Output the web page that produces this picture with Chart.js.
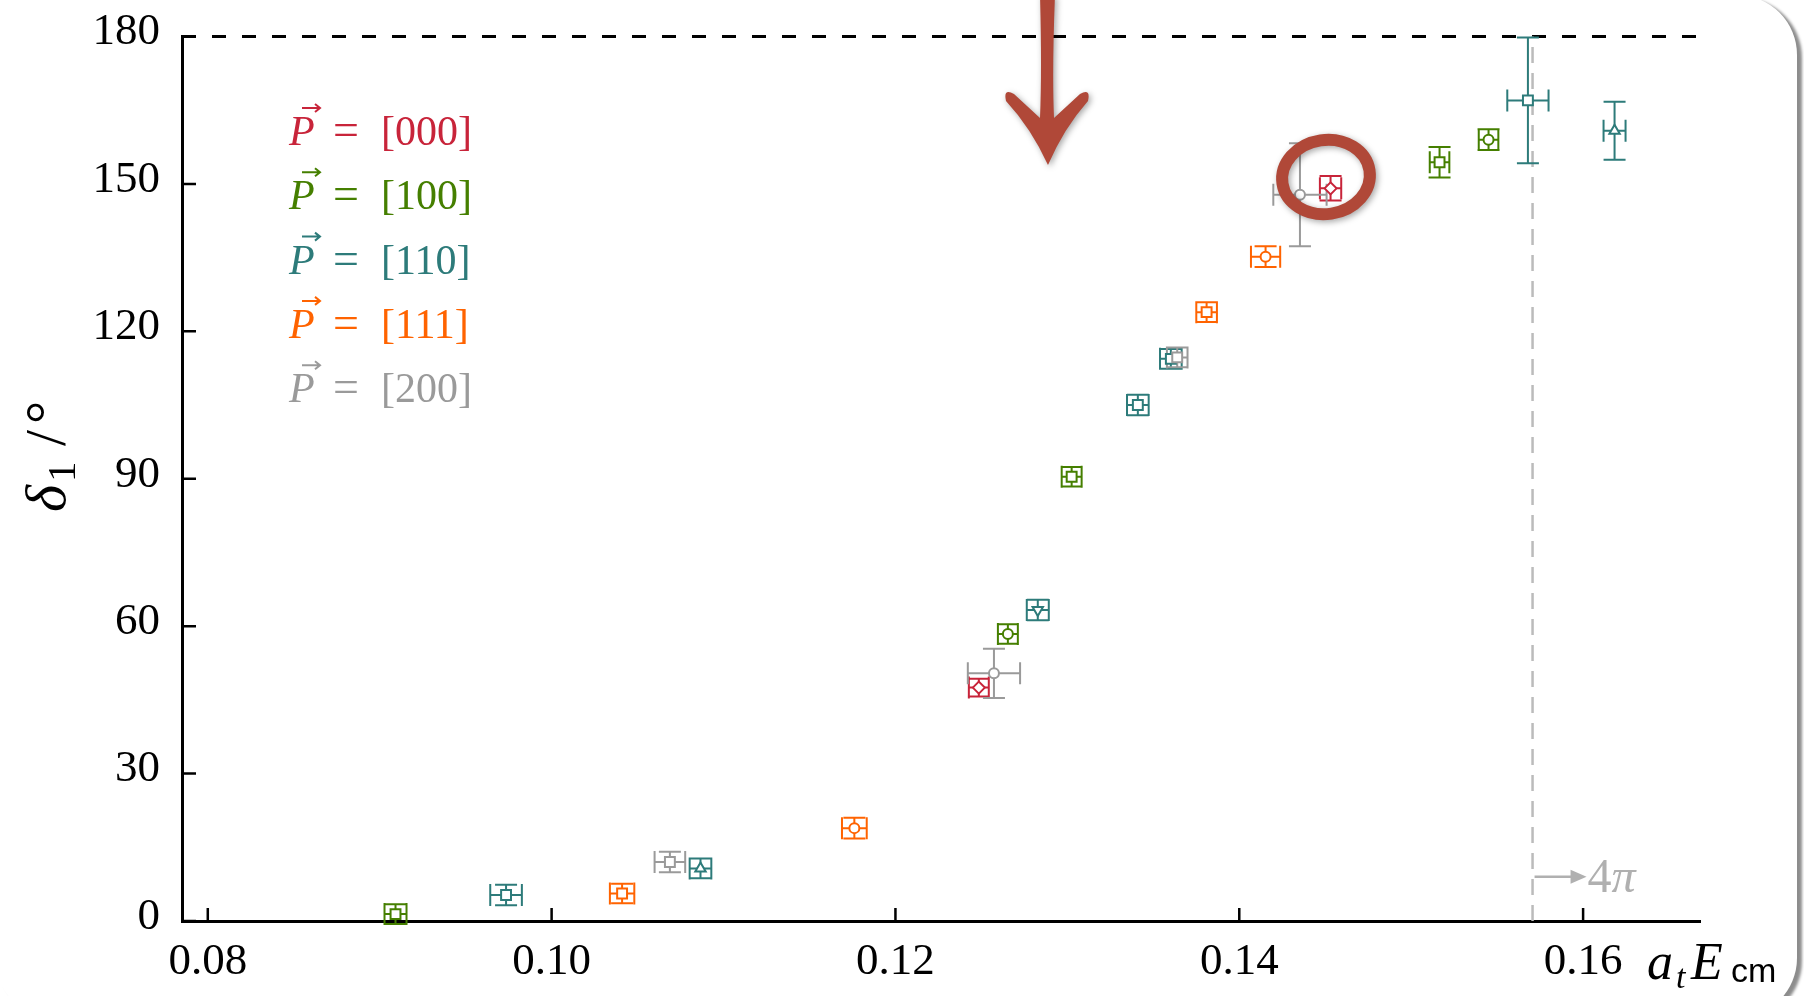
<!DOCTYPE html>
<html>
<head>
<meta charset="utf-8">
<title>Elastic phase shift δ1 versus a_t E_cm</title>
<script src="https://cdn.jsdelivr.net/npm/chart.js@4.4.1/dist/chart.umd.min.js"></script>
<style>
  html, body { margin: 0; padding: 0; background: #ffffff; overflow: hidden; }
  #card {
    position: absolute; left: -5px; top: -5px; width: 1802px; height: 1023px;
    border-radius: 60px; background: #ffffff;
    box-shadow: 5px 3px 3px rgba(0, 0, 0, 0.45);
  }
  #wrap { position: absolute; left: 0; top: 0; width: 1804px; height: 996px; }
</style>
</head>
<body>
<div id="card"></div>
<div id="wrap"><canvas id="c" width="1804" height="996"></canvas></div>
<script>
// ---- frame momenta and series colours ----
const momenta = ['[000]', '[100]', '[110]', '[111]', '[200]'];
const seriesColors = ['#c8243a', '#457f00', '#2d7b7a', '#ff6300', '#9a9a9a'];

// ---- P = [000] ----
const energy000    = [0.12485, 0.14531];
const phase000     = [47.5, 149.1];
const energyErr000 = [0.00058, 0.00062];
const phaseErr000  = [1.8, 2.5];
const marker000    = ['rectRot', 'rectRot'];

// ---- P = [100] ----
const energy100    = [0.09092, 0.12654, 0.13025, 0.15165, 0.15450];
const phase100     = [1.4, 58.4, 90.4, 154.4, 159.0];
const energyErr100 = [0.00064, 0.00058, 0.00058, 0.00057, 0.00057];
const phaseErr100  = [2.0, 2.0, 2.0, 3.1, 2.1];
const marker100    = ['rect', 'circle', 'rect', 'rect', 'circle'];

// ---- P = [110] ----
const energy110    = [0.09735, 0.10866, 0.12828, 0.13410, 0.13602, 0.15679, 0.16183];
const phase110     = [5.3, 10.7, 63.3, 105.0, 114.4, 167.0, 160.8];
const energyErr110 = [0.00092, 0.00063, 0.00064, 0.00063, 0.00063, 0.00120, 0.00064];
const phaseErr110  = [2.1, 2.0, 2.1, 2.1, 2.0, 12.8, 5.9];
const marker110    = ['rect', 'triangle', 'triangleDown', 'rect', 'rect', 'rect', 'triangle'];

// ---- P = [111] ----
const energy111    = [0.10410, 0.11761, 0.13810, 0.14153];
const phase111     = [5.6, 18.9, 123.9, 135.2];
const energyErr111 = [0.00071, 0.00072, 0.00060, 0.00085];
const phaseErr111  = [2.0, 2.1, 2.0, 2.1];
const marker111    = ['rect', 'circle', 'rect', 'circle'];

// ---- P = [200] ----
const energy200    = [0.10688, 0.12573, 0.13639, 0.14353];
const phase200     = [12.0, 50.4, 114.7, 147.8];
const energyErr200 = [0.00089, 0.00152, 0.00060, 0.00155];
const phaseErr200  = [2.1, 5.0, 2.0, 10.5];
const marker200    = ['rect', 'circle', 'rect', 'circle'];

// ---- axes ----
const xTickValues = [0.08, 0.10, 0.12, 0.14, 0.16];
const yTickValues = [0, 30, 60, 90, 120, 150, 180];
const xRange = [0.0785, 0.1668];
const yRange = [0, 180];
const phaseLimit = 180;            // horizontal dashed line
const fourPionThreshold = 0.15706; // vertical dashed line, "→4π"

const series = [
  [energy000, phase000, energyErr000, phaseErr000, marker000],
  [energy100, phase100, energyErr100, phaseErr100, marker100],
  [energy110, phase110, energyErr110, phaseErr110, marker110],
  [energy111, phase111, energyErr111, phaseErr111, marker111],
  [energy200, phase200, energyErr200, phaseErr200, marker200]
];

// marker shape -> Chart.js point style, size, rotation
const markerLook = {
  circle:       { style: 'circle',   radius: 5, rotation: 0 },
  rect:         { style: 'rect',     radius: 7, rotation: 0 },
  rectRot:      { style: 'rectRot',  radius: 6, rotation: 0 },
  triangle:     { style: 'triangle', radius: 6, rotation: 0 },
  triangleDown: { style: 'triangle', radius: 6, rotation: 180 }
};

const datasets = series.map(([xs, ys, xe, ye, mk], i) => ({
  label: momenta[i],
  data: xs.map((v, j) => ({ x: v, y: ys[j] })),
  xErr: xe,
  yErr: ye,
  borderColor: seriesColors[i],
  backgroundColor: '#ffffff',
  borderWidth: 2,
  pointStyle: mk.map(m => markerLook[m].style),
  pointRadius: mk.map(m => markerLook[m].radius),
  pointRotation: mk.map(m => markerLook[m].rotation),
  order: series.length - i
}));

// dashed reference lines under the data
const referenceLines = {
  id: 'referenceLines',
  beforeDatasetsDraw(chart) {
    const { ctx, chartArea: a, scales: { x, y } } = chart;
    ctx.save();
    // delta = 180 degrees
    ctx.strokeStyle = '#000000';
    ctx.lineWidth = 3;
    ctx.setLineDash([14, 16]);
    const py = y.getPixelForValue(phaseLimit);
    ctx.beginPath();
    ctx.moveTo(a.left, py);
    ctx.lineTo(a.right, py);
    ctx.stroke();
    // four-pion threshold
    ctx.strokeStyle = '#bbbbbb';
    ctx.lineWidth = 2.5;
    ctx.setLineDash([16, 10]);
    const px = x.getPixelForValue(fourPionThreshold);
    ctx.beginPath();
    ctx.moveTo(px, y.getPixelForValue(yRange[0]));
    ctx.lineTo(px, y.getPixelForValue(yRange[1]));
    ctx.stroke();
    ctx.restore();
  }
};

// horizontal and vertical error bars with caps
const errorBars = {
  id: 'errorBars',
  beforeDatasetsDraw(chart) {
    const { ctx, scales: { x, y } } = chart;
    const cap = 11;
    ctx.save();
    ctx.lineWidth = 2;
    chart.data.datasets.forEach((ds, i) => {
      if (!chart.isDatasetVisible(i)) return;
      ctx.strokeStyle = ds.borderColor;
      ds.data.forEach((p, j) => {
        const px = x.getPixelForValue(p.x);
        const py = y.getPixelForValue(p.y);
        const x0 = x.getPixelForValue(p.x - ds.xErr[j]);
        const x1 = x.getPixelForValue(p.x + ds.xErr[j]);
        const y0 = y.getPixelForValue(p.y - ds.yErr[j]);
        const y1 = y.getPixelForValue(p.y + ds.yErr[j]);
        ctx.beginPath();
        ctx.moveTo(x0, py); ctx.lineTo(x1, py);
        ctx.moveTo(px, y0); ctx.lineTo(px, y1);
        ctx.moveTo(x0, py - cap); ctx.lineTo(x0, py + cap);
        ctx.moveTo(x1, py - cap); ctx.lineTo(x1, py + cap);
        ctx.moveTo(px - cap, y0); ctx.lineTo(px + cap, y0);
        ctx.moveTo(px - cap, y1); ctx.lineTo(px + cap, y1);
        ctx.stroke();
      });
    });
    ctx.restore();
  }
};

// tick marks pointing into the plot
const innerTicks = {
  id: 'innerTicks',
  afterDatasetsDraw(chart) {
    const { ctx, chartArea: a, scales: { x, y } } = chart;
    ctx.save();
    ctx.strokeStyle = '#000000';
    ctx.lineWidth = 2.5;
    ctx.beginPath();
    x.ticks.forEach(t => {
      const px = x.getPixelForValue(t.value);
      ctx.moveTo(px, a.bottom);
      ctx.lineTo(px, a.bottom - 13);
    });
    y.ticks.forEach(t => {
      const py = y.getPixelForValue(t.value);
      ctx.moveTo(a.left, py);
      ctx.lineTo(a.left + 14, py);
    });
    ctx.stroke();
    ctx.restore();
  }
};

// legend, axis titles and the threshold label
const textLayer = {
  id: 'textLayer',
  afterDraw(chart) {
    const { ctx, scales: { x, y } } = chart;
    ctx.save();
    ctx.textAlign = 'left';
    ctx.textBaseline = 'alphabetic';

    // legend: P-vector = [n n n]
    const legendX = 289, legendBase = 145, legendStep = 64.3;
    momenta.forEach((m, i) => {
      const base = legendBase + i * legendStep;
      ctx.fillStyle = seriesColors[i];
      ctx.strokeStyle = seriesColors[i];
      ctx.font = 'italic 42px "Liberation Serif"';
      ctx.fillText('P', legendX, base);
      // vector arrow above P
      ctx.lineWidth = 2;
      ctx.beginPath();
      ctx.moveTo(legendX + 13, base - 37);
      ctx.lineTo(legendX + 31, base - 37);
      ctx.moveTo(legendX + 26, base - 41);
      ctx.lineTo(legendX + 31, base - 37);
      ctx.lineTo(legendX + 26, base - 33);
      ctx.stroke();
      ctx.font = '46px "Liberation Serif"';
      ctx.fillText('=', legendX + 44, base);
      ctx.font = '42px "Liberation Serif"';
      ctx.fillText(m, legendX + 92, base);
    });

    // y title: δ1 /°
    ctx.fillStyle = '#000000';
    ctx.save();
    ctx.translate(65, 512);
    ctx.rotate(-Math.PI / 2);
    ctx.font = 'italic 58px "Liberation Serif"';
    ctx.fillText('δ', 0, 0);
    ctx.font = '41px "Liberation Serif"';
    ctx.fillText('1', 30, 10);
    ctx.font = '58px "Liberation Serif"';
    ctx.fillText('/', 66, 0);
    ctx.fillText('°', 88, 0);
    ctx.restore();

    // x title: a_t E_cm
    ctx.font = 'italic 52px "Liberation Serif"';
    ctx.fillText('a', 1647, 979);
    ctx.font = 'italic 34px "Liberation Serif"';
    ctx.fillText('t', 1676, 988);
    ctx.font = 'italic 52px "Liberation Serif"';
    ctx.fillText('E', 1691, 979);
    ctx.font = '34px "Liberation Sans"';
    ctx.fillText('cm', 1731, 982);

    // →4π next to the threshold line
    const tx = x.getPixelForValue(fourPionThreshold);
    const ty = y.getPixelForValue(9);
    ctx.strokeStyle = '#b0b0b0';
    ctx.fillStyle = '#b0b0b0';
    ctx.lineWidth = 2.5;
    ctx.beginPath();
    ctx.moveTo(tx + 2, ty);
    ctx.lineTo(tx + 42, ty);
    ctx.stroke();
    ctx.beginPath();
    ctx.moveTo(tx + 54, ty);
    ctx.lineTo(tx + 38, ty - 7);
    ctx.lineTo(tx + 38, ty + 7);
    ctx.closePath();
    ctx.fill();
    ctx.font = '48px "Liberation Serif"';
    ctx.fillText('4', tx + 55, ty + 15);
    ctx.font = 'italic 48px "Liberation Serif"';
    ctx.fillText('π', tx + 79, ty + 15);

    ctx.restore();
  }
};

// hand-drawn highlight: arrow and circle
const highlight = {
  id: 'highlight',
  afterDraw(chart) {
    const { ctx } = chart;
    ctx.save();
    ctx.fillStyle = '#b04838';
    ctx.strokeStyle = '#b04838';
    ctx.shadowColor = 'rgba(0, 0, 0, 0.35)';
    ctx.shadowBlur = 6;
    ctx.shadowOffsetX = 2;
    ctx.shadowOffsetY = 2;

    ctx.beginPath();
    ctx.moveTo(1040, -5);
    ctx.lineTo(1055, -5);
    ctx.quadraticCurveTo(1052, 70, 1054, 118);
    ctx.quadraticCurveTo(1067, 106, 1080, 94);
    ctx.quadraticCurveTo(1091, 88, 1088, 101);
    ctx.quadraticCurveTo(1064, 128, 1048, 165);
    ctx.quadraticCurveTo(1031, 128, 1006, 101);
    ctx.quadraticCurveTo(1003, 88, 1014, 94);
    ctx.quadraticCurveTo(1027, 106, 1040, 118);
    ctx.quadraticCurveTo(1042, 70, 1040, -5);
    ctx.closePath();
    ctx.fill();

    ctx.lineWidth = 12;
    ctx.beginPath();
    ctx.ellipse(1326, 177, 44, 37, -0.15, 0, Math.PI * 2);
    ctx.stroke();
    ctx.restore();
  }
};

const serifFont = { family: '"Liberation Serif"', size: 45, lineHeight: 1 };

new Chart(document.getElementById('c'), {
  type: 'scatter',
  data: { datasets },
  options: {
    responsive: false,
    animation: false,
    devicePixelRatio: 1,
    layout: { padding: { top: 33, right: 104, left: 0, bottom: 0 } },
    plugins: { legend: { display: false }, tooltip: { enabled: false } },
    scales: {
      x: {
        type: 'linear',
        min: xRange[0],
        max: xRange[1],
        grid: { display: false },
        border: { display: true, width: 3, color: '#000000' },
        afterBuildTicks: ax => { ax.ticks = xTickValues.map(v => ({ value: v })); },
        afterFit: s => { s.height = 75; },
        ticks: {
          font: serifFont, color: '#000000', padding: 11,
          maxRotation: 0, autoSkip: false,
          callback: v => Number(v).toFixed(2)
        }
      },
      y: {
        type: 'linear',
        min: yRange[0],
        max: yRange[1],
        grid: { display: false },
        border: { display: true, width: 3, color: '#000000' },
        afterBuildTicks: ax => { ax.ticks = yTickValues.map(v => ({ value: v })); },
        afterFit: s => { s.width = 182; },
        ticks: {
          font: serifFont, color: '#000000', padding: 14, labelOffset: -4,
          autoSkip: false,
          callback: v => String(v)
        }
      }
    }
  },
  plugins: [referenceLines, errorBars, innerTicks, textLayer, highlight]
});
</script>
</body>
</html>
